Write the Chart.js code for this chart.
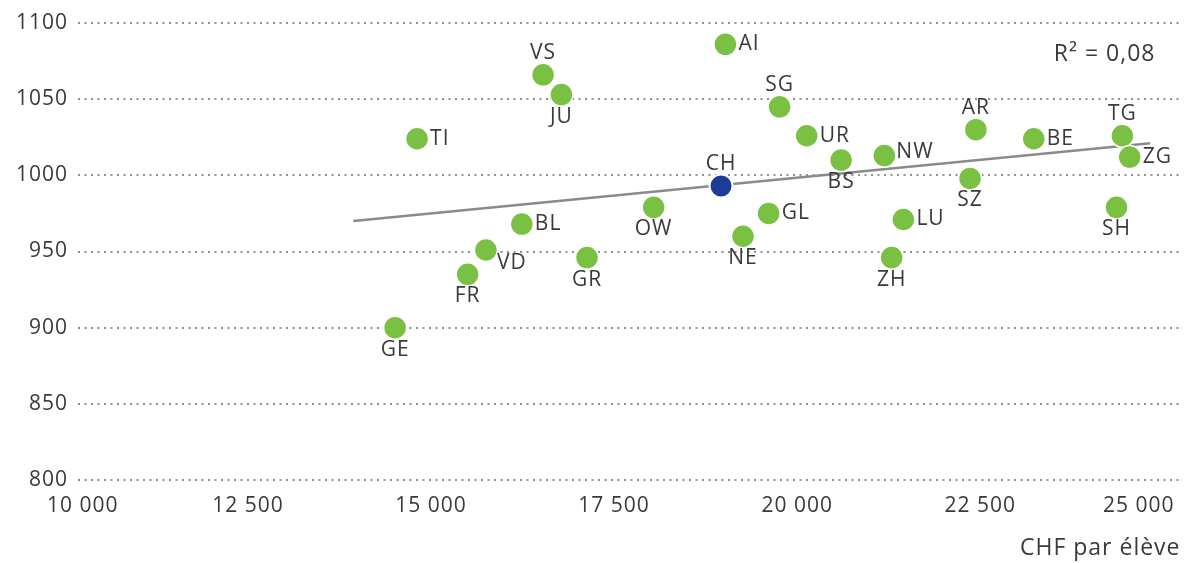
<!DOCTYPE html>
<html>
<head>
<meta charset="utf-8">
<script src="https://cdn.jsdelivr.net/npm/chart.js@4.4.1/dist/chart.umd.min.js"></script>
<style>
  html, body { margin: 0; padding: 0; background: #fff; }
  #wrap { width: 1193px; height: 563px; }
</style>
</head>
<body>
<div id="wrap"><canvas id="scoreChart"></canvas></div>
<script>
// cantons: spending per pupil (CHF) vs. mean score
const cantons = ['VS', 'JU', 'TI', 'AI', 'OW', 'BL', 'VD', 'FR', 'GR', 'GE', 'NE', 'SG',
  'UR', 'BS', 'NW', 'GL', 'LU', 'ZH', 'AR', 'SZ', 'BE', 'TG', 'ZG', 'SH'];
const spending = [16530, 16780, 14810, 19020, 18040, 16240, 15750, 15500, 17130, 14510, 19260, 19760,
  20130, 20600, 21190, 19610, 21450, 21290, 22440, 22360, 23230, 24440, 24540, 24360];
const score = [1066, 1053, 1024, 1086, 979, 968, 951, 935, 946, 900, 960, 1045,
  1026, 1010, 1013, 975, 971, 946, 1030, 998, 1024, 1026, 1012, 979];

// Swiss average
const swissLabel = 'CH';
const swissSpending = [18960];
const swissScore = [993];

// regression line end points
const trendSpending = [13940, 24820];
const trendScore = [970, 1021];

const xTicks = [10000, 12500, 15000, 17500, 20000, 22500, 25000];
const yTicks = [800, 850, 900, 950, 1000, 1050, 1100];
const xTitle = 'CHF par élève';
const rSquared = 'R² = 0,08';

const GREEN = '#7ac143';
const NAVY = '#1c3c96';
const TEXT = '#3a3a3a';
const FONT = '"Open Sans", "DejaVu Sans", sans-serif';

// where each name sits next to its dot
const labelSide = {
  VS: 'top', JU: 'bottom', TI: 'right', AI: 'right', OW: 'bottom', BL: 'right',
  VD: 'bottomRight', FR: 'bottom', GR: 'bottom', GE: 'bottom', NE: 'bottom', SG: 'top',
  UR: 'right', BS: 'bottom', NW: 'rightUp', GL: 'right', LU: 'right', ZH: 'bottom',
  AR: 'top', SZ: 'bottom', BE: 'right', TG: 'top', ZG: 'right', SH: 'bottom', CH: 'top'
};

const fmtThousands = v => String(v).replace(/\B(?=(\d{3})+(?!\d))/g, ' ');

const toPoints = (xs, ys) => xs.map((x, i) => ({ x, y: ys[i] }));

const textSpacing = {
  id: 'textSpacing',
  beforeDraw(chart) {
    chart.ctx.letterSpacing = '1px';
  }
};

const pointLabels = {
  id: 'pointLabels',
  afterDatasetsDraw(chart) {
    const ctx = chart.ctx;
    ctx.save();
    ctx.font = '21px ' + FONT;
    ctx.fillStyle = TEXT;
    [0, 1].forEach(di => {
      const names = di === 0 ? cantons : [swissLabel];
      chart.getDatasetMeta(di).data.forEach((pt, j) => {
        const name = names[j];
        const side = labelSide[name] || 'right';
        let x = pt.x, y = pt.y;
        ctx.textBaseline = 'middle';
        if (side === 'top') { ctx.textAlign = 'center'; y -= 22; }
        else if (side === 'bottom') { ctx.textAlign = 'center'; y += 22; }
        else if (side === 'bottomRight') { ctx.textAlign = 'left'; x += 11; y += 13; }
        else if (side === 'rightUp') { ctx.textAlign = 'left'; x += 12; y -= 4; }
        else { ctx.textAlign = 'left'; x += 13; }
        ctx.fillText(name, x, y);
      });
    });
    ctx.restore();
  }
};

const axisText = {
  id: 'axisText',
  afterDraw(chart) {
    const ctx = chart.ctx;
    const area = chart.chartArea;
    const xs = chart.scales.x;
    ctx.save();
    ctx.fillStyle = TEXT;
    ctx.textBaseline = 'middle';
    ctx.textAlign = 'center';
    ctx.font = '21px ' + FONT;
    // tick labels, end labels kept inside the plot width
    xTicks.forEach(v => {
      const label = fmtThousands(v);
      const w = ctx.measureText(label).width;
      let cx = xs.getPixelForValue(v);
      cx = Math.max(cx, area.left - 31 + w / 2);
      cx = Math.min(cx, area.right - 5 - w / 2);
      ctx.fillText(label, cx, area.bottom + 26);
    });
    ctx.textAlign = 'right';
    ctx.font = '23px ' + FONT;
    ctx.fillText(xTitle, area.right + 1, area.bottom + 68);
    ctx.fillText(rSquared, area.right - 24, area.top + 31);
    ctx.restore();
  }
};

new Chart(document.getElementById('scoreChart'), {
  type: 'scatter',
  data: {
    datasets: [
      {
        label: 'Cantons',
        data: toPoints(spending, score),
        backgroundColor: GREEN,
        borderColor: '#ffffff',
        borderWidth: 1.5,
        pointRadius: 11.5,
        pointHoverRadius: 11.5
      },
      {
        label: swissLabel,
        data: toPoints(swissSpending, swissScore),
        backgroundColor: NAVY,
        borderColor: '#ffffff',
        borderWidth: 2,
        pointRadius: 11.5,
        pointHoverRadius: 11.5
      },
      {
        type: 'line',
        label: 'Tendance',
        data: toPoints(trendSpending, trendScore),
        borderColor: '#8a8a8a',
        borderWidth: 2.5,
        pointRadius: 0,
        fill: false,
        tension: 0
      }
    ]
  },
  options: {
    responsive: true,
    maintainAspectRatio: false,
    animation: false,
    events: [],
    layout: { padding: { top: 23, right: 11, bottom: 83, left: 0 } },
    plugins: {
      legend: { display: false },
      tooltip: { enabled: false }
    },
    scales: {
      x: {
        type: 'linear',
        min: 10180,
        max: 25220,
        display: false
      },
      y: {
        type: 'linear',
        min: 800,
        max: 1100,
        afterBuildTicks: scale => { scale.ticks = yTicks.map(value => ({ value })); },
        afterFit: scale => { scale.width = 78; },
        border: { display: false, dash: [2, 4.5] },
        grid: {
          color: '#8f8f8f',
          lineWidth: 2,
          drawTicks: false
        },
        ticks: {
          padding: 10,
          color: TEXT,
          font: { family: FONT, size: 21 },
          callback: v => String(v)
        }
      }
    }
  },
  plugins: [textSpacing, pointLabels, axisText]
});
</script>
</body>
</html>
